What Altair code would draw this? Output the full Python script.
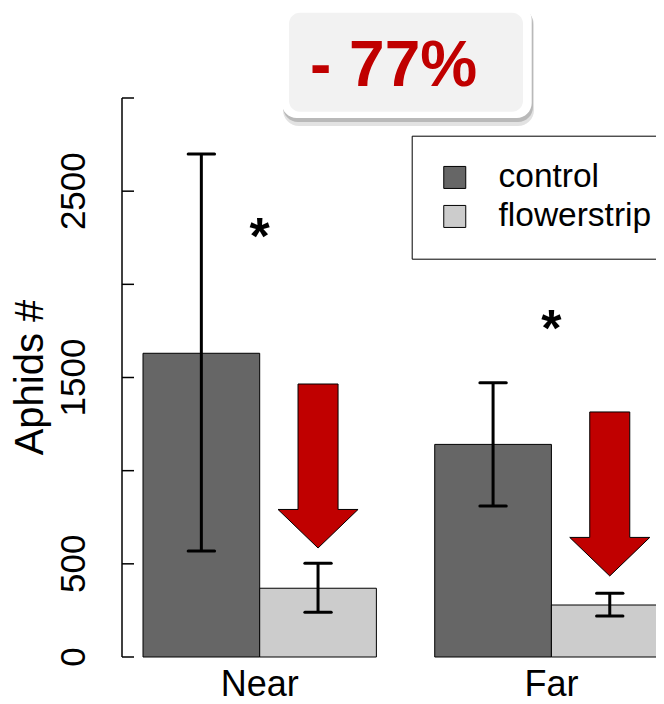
import altair as alt
import pandas as pd

# ---------------- data ----------------
groups = ["Near", "Far"]
treatments = ["control", "flowerstrip"]
bar_colors = ["#666666", "#cccccc"]
means = [[1630, 369], [1141, 279]]
err_low = [[569, 240], [810, 220]]
err_high = [[2700, 503], [1472, 342]]
star_y = [2286, 1795]          # asterisks above each group
arrow_top = [1465, 1315]       # red arrows above the flowerstrip bars
arrow_tip = [585, 435]
y_ticks = [0, 500, 1000, 1500, 2000, 2500, 3000]
y_labels_shown = [0, 500, 1500, 2500]
y_title = "Aphids #"
badge_text = ["- 77%"]

# ---------------- layout helpers ----------------
FONT = "Liberation Sans, Arial, Helvetica, sans-serif"
BAR_W = 1.0
GROUP_GAP = 0.5
GROUP_W = len(treatments) * BAR_W + GROUP_GAP

rows = []
for gi, g in enumerate(groups):
    for ti, t in enumerate(treatments):
        x0 = gi * GROUP_W + ti * BAR_W
        rows.append(dict(group=g, treatment=t, x0=x0, x1=x0 + BAR_W,
                         xc=x0 + BAR_W / 2, mean=means[gi][ti],
                         lo=err_low[gi][ti], hi=err_high[gi][ti]))
bars = pd.DataFrame(rows)

group_centers = [gi * GROUP_W + len(treatments) * BAR_W / 2 for gi in range(len(groups))]
flower_centers = [gi * GROUP_W + 1.5 * BAR_W for gi in range(len(groups))]

PLOT_W = 534
PX_PER_UNIT = 116.69
x_lo = -0.18
x_scale = alt.Scale(domain=[x_lo, x_lo + PLOT_W / PX_PER_UNIT], nice=False, zero=False)
y_scale = alt.Scale(domain=[y_ticks[0], y_ticks[-1]], nice=False)

# ---------------- bars ----------------
bar_layer = alt.Chart(bars).mark_bar(stroke="black", strokeWidth=1).encode(
    x=alt.X("x0:Q", scale=x_scale, axis=None),
    x2="x1:Q",
    y=alt.Y("mean:Q", stack=None, scale=y_scale, axis=None),
    y2=alt.datum(0),
    color=alt.Color("treatment:N",
                    scale=alt.Scale(domain=treatments, range=bar_colors),
                    legend=alt.Legend(orient="none", legendX=289.7, legendY=37.7,
                                      title=None, direction="vertical",
                                      strokeColor="black", fillColor="white",
                                      padding=25, rowPadding=4,
                                      symbolType="square", symbolSize=484,
                                      symbolStrokeColor="black",
                                      symbolStrokeWidth=1, symbolOffset=1.3,
                                      labelOffset=27, labelFontSize=33.5,
                                      labelFont=FONT, labelColor="black",
                                      labelLimit=400)),
)

# ---------------- error bars ----------------
err_base = alt.Chart(bars).transform_calculate(
    cap0="datum.xc - 0.113", cap1="datum.xc + 0.113"
)
err_line = err_base.mark_rule(color="black", strokeWidth=3).encode(
    x=alt.X("xc:Q", scale=x_scale, axis=None),
    y=alt.Y("lo:Q", scale=y_scale, axis=None),
    y2="hi:Q",
)
cap_lo = err_base.mark_rule(color="black", strokeWidth=3, strokeCap="round").encode(
    x=alt.X("cap0:Q", scale=x_scale, axis=None), x2="cap1:Q",
    y=alt.Y("lo:Q", scale=y_scale, axis=None),
)
cap_hi = err_base.mark_rule(color="black", strokeWidth=3, strokeCap="round").encode(
    x=alt.X("cap0:Q", scale=x_scale, axis=None), x2="cap1:Q",
    y=alt.Y("hi:Q", scale=y_scale, axis=None),
)

# ---------------- hand-drawn y axis (ticks point inward) ----------------
ticks_df = pd.DataFrame({"tick": y_ticks})
tick_layer = alt.Chart(ticks_df).mark_rule(color="black", strokeWidth=1.5).encode(
    y=alt.Y("tick:Q", scale=y_scale, axis=None),
    x=alt.value(0), x2=alt.value(12),
)
dom_df = pd.DataFrame({"lo": [y_ticks[0]], "hi": [y_ticks[-1]]})
dom_layer = alt.Chart(dom_df).mark_rule(color="black", strokeWidth=1.5).encode(
    y=alt.Y("lo:Q", scale=y_scale, axis=None), y2="hi:Q",
    x=alt.value(0),
)
lab_df = pd.DataFrame({"v": y_labels_shown})
ylab_layer = alt.Chart(lab_df).mark_text(
    angle=270, align="center", baseline="alphabetic", fontSize=35,
    font=FONT, color="black"
).encode(
    y=alt.Y("v:Q", scale=y_scale, axis=None),
    x=alt.value(-37),
    text="v:N",
)
ytitle_layer = alt.Chart(pd.DataFrame({"t": [y_title]})).mark_text(
    angle=270, align="center", baseline="alphabetic", fontSize=40,
    font=FONT, color="black"
).encode(x=alt.value(-79), y=alt.value(279.5), text="t:N")

# ---------------- group labels ----------------
xlab_df = pd.DataFrame({"g": groups, "c": group_centers})
xlab_layer = alt.Chart(xlab_df).mark_text(
    align="center", baseline="alphabetic", fontSize=36, font=FONT, color="black"
).encode(
    x=alt.X("c:Q", scale=x_scale, axis=None),
    y=alt.value(598),
    text="g:N",
)

# ---------------- red arrows ----------------
ARROW = ("M-0.244,-1L0.244,-1L0.244,0.53L0.488,0.53L0,1"
         "L-0.488,0.53L-0.244,0.53Z")
arrows = pd.DataFrame({"x": flower_centers, "top": arrow_top, "tip": arrow_tip})
arrow_layer = alt.Chart(arrows).transform_calculate(
    mid="(datum.top + datum.tip) / 2"
).mark_point(shape=ARROW, size=164 * 164, filled=True, fill="#C00000",
             stroke="black", strokeWidth=1, opacity=1).encode(
    x=alt.X("x:Q", scale=x_scale, axis=None),
    y=alt.Y("mid:Q", scale=y_scale, axis=None),
)

# ---------------- asterisks ----------------
stars = pd.DataFrame({"x": group_centers, "y": star_y})
star_layer = alt.Chart(stars).mark_text(
    text="*", fontSize=52, fontWeight="bold", font=FONT, color="black",
    align="center", baseline="middle", dy=7
).encode(
    x=alt.X("x:Q", scale=x_scale, axis=None),
    y=alt.Y("y:Q", scale=y_scale, axis=None),
)

# ---------------- "- 77%" badge ----------------
badge = pd.DataFrame({"label": badge_text})
shadow1 = alt.Chart(badge).mark_rect(fill="#8a8a8a", opacity=0.25, cornerRadius=16).encode(
    x=alt.value(161), x2=alt.value(412), y=alt.value(-89), y2=alt.value(28))
shadow2 = alt.Chart(badge).mark_rect(fill="#6e6e6e", opacity=0.35, cornerRadius=15).encode(
    x=alt.value(161), x2=alt.value(411), y=alt.value(-90), y2=alt.value(24))
outer = alt.Chart(badge).mark_rect(fill="white", cornerRadius=15).encode(
    x=alt.value(159.7), x2=alt.value(409.7), y=alt.value(-93), y2=alt.value(20))
inner = alt.Chart(badge).mark_rect(fill="#f2f2f2", cornerRadius=11).encode(
    x=alt.value(167), x2=alt.value(401), y=alt.value(-85.3), y2=alt.value(13.7))
badge_txt = alt.Chart(badge).mark_text(
    color="#C00000", fontSize=64, fontWeight="bold", font=FONT,
    align="left", baseline="alphabetic"
).encode(x=alt.value(188), y=alt.value(-12), text="label:N")

chart = alt.layer(
    bar_layer, err_line, cap_lo, cap_hi, tick_layer, dom_layer,
    ylab_layer, ytitle_layer, xlab_layer,
    arrow_layer, star_layer, shadow1, shadow2, outer, inner, badge_txt
).properties(
    width=PLOT_W, height=559,
    padding={"left": 114, "top": 90, "right": 0, "bottom": 47},
    autosize=alt.AutoSizeParams(type="none"),
    background="white",
).configure_view(stroke=None)

chart.save("out.html", embed_options={"renderer": "svg", "actions": False})
